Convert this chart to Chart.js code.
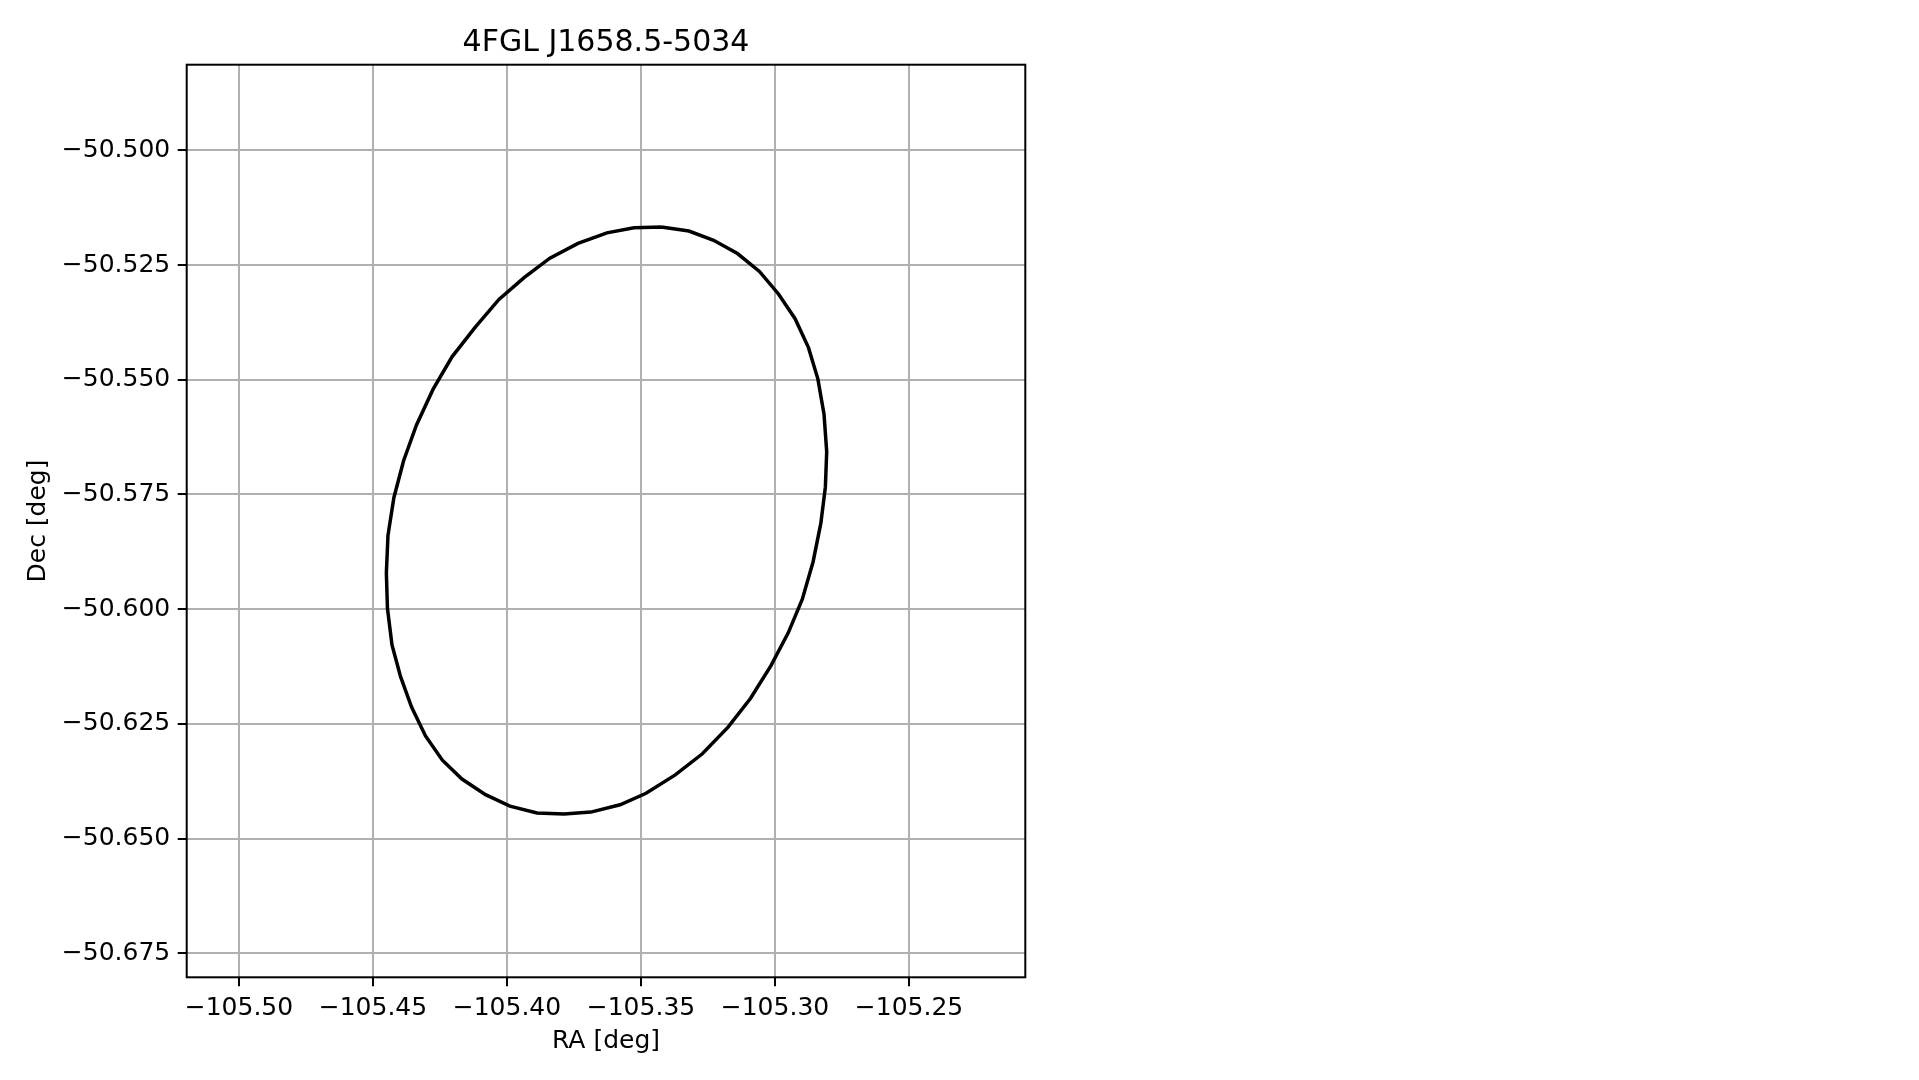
<!DOCTYPE html>
<html>
<head>
<meta charset="utf-8">
<title>4FGL J1658.5-5034</title>
<script src="https://cdn.jsdelivr.net/npm/chart.js@4.4.1/dist/chart.umd.min.js"></script>
<style>
  html, body { margin: 0; padding: 0; background: #ffffff; }
  #wrap { position: relative; width: 1919px; height: 1080px; }
</style>
</head>
<body>
<div id="wrap"><canvas id="chart"></canvas></div>
<script>
// error ellipse outline (closed: last point = first point)
const raValues = [
  -105.3424, -105.3526, -105.3627, -105.3735, -105.3840, -105.3935, -105.4030,
  -105.4119, -105.4205, -105.4276, -105.4338, -105.4386, -105.4422, -105.4444,
  -105.4450, -105.4446, -105.4429, -105.4397, -105.4356, -105.4304, -105.4241,
  -105.4168, -105.4080, -105.3989, -105.3888, -105.3787, -105.3687, -105.3578,
  -105.3481, -105.3372, -105.3271, -105.3175, -105.3091, -105.3015, -105.2951,
  -105.2898, -105.2858, -105.2829, -105.2812, -105.2807, -105.2817, -105.2840,
  -105.2875, -105.2925, -105.2987, -105.3058, -105.3140, -105.3229, -105.3321,
  -105.3424
];
const decValues = [
  -50.5167, -50.5169, -50.5180, -50.5203, -50.5235, -50.5277, -50.5325,
  -50.5386, -50.5450, -50.5521, -50.5599, -50.5677, -50.5757, -50.5839,
  -50.5921, -50.5998, -50.6078, -50.6147, -50.6213, -50.6276, -50.6329,
  -50.6370, -50.6404, -50.6429, -50.6444, -50.6446, -50.6442, -50.6426,
  -50.6401, -50.6361, -50.6315, -50.6257, -50.6194, -50.6123, -50.6052,
  -50.5978, -50.5897, -50.5813, -50.5734, -50.5657, -50.5575, -50.5498,
  -50.5430, -50.5367, -50.5313, -50.5264, -50.5225, -50.5196, -50.5176,
  -50.5167
];

const raTicks = [-105.50, -105.45, -105.40, -105.35, -105.30, -105.25];
const raTickLabels = ["\u2212105.50", "\u2212105.45", "\u2212105.40", "\u2212105.35", "\u2212105.30", "\u2212105.25"];
const decTicks = [-50.500, -50.525, -50.550, -50.575, -50.600, -50.625, -50.650, -50.675];
const decTickLabels = ["\u221250.500", "\u221250.525", "\u221250.550", "\u221250.575", "\u221250.600", "\u221250.625", "\u221250.650", "\u221250.675"];

const raRange = [-105.5195, -105.2066];
const decRange = [-50.6802, -50.48135];

Chart.defaults.font.family = "'DejaVu Sans', sans-serif";
Chart.defaults.color = "#000000";

// box around the plot area, like the matplotlib spines
const frame = {
  id: "frame",
  afterDatasetsDraw(chart) {
    const { ctx, chartArea: a } = chart;
    ctx.save();
    ctx.strokeStyle = "#000000";
    ctx.lineWidth = 2;
    ctx.strokeRect(a.left, a.top, a.right - a.left, a.bottom - a.top);
    ctx.restore();
  },
};

new Chart(document.getElementById("chart").getContext("2d"), {
  type: "scatter",
  data: {
    datasets: [
      {
        data: raValues.map((ra, i) => ({ x: ra, y: decValues[i] })),
        showLine: true,
        borderColor: "#000000",
        borderWidth: 3.5,
        tension: 0,
        pointRadius: 0,
        fill: false,
      },
    ],
  },
  options: {
    responsive: true,
    maintainAspectRatio: false,
    animation: false,
    layout: {
      padding: { left: 0, top: 0, right: 893.7, bottom: 0 },
    },
    scales: {
      x: {
        type: "linear",
        min: raRange[0],
        max: raRange[1],
        afterBuildTicks: (scale) => {
          scale.ticks = raTicks.map((v) => ({ value: v }));
        },
        afterFit: (scale) => {
          scale.height = 102.7;
        },
        border: { display: false },
        grid: {
          color: "#b0b0b0",
          lineWidth: 2,
          tickColor: "#000000",
          tickWidth: 2,
          tickLength: 9,
        },
        ticks: {
          font: { size: 25 },
          padding: 7,
          maxRotation: 0,
          callback: (value, index) => raTickLabels[index],
        },
        title: {
          display: true,
          text: "RA [deg]",
          font: { size: 25 },
          padding: { top: 0, bottom: 24 },
        },
      },
      y: {
        type: "linear",
        min: decRange[0],
        max: decRange[1],
        afterBuildTicks: (scale) => {
          scale.ticks = decTicks.map((v) => ({ value: v }));
        },
        afterFit: (scale) => {
          scale.width = 186.7;
        },
        border: { display: false },
        grid: {
          color: "#b0b0b0",
          lineWidth: 2,
          tickColor: "#000000",
          tickWidth: 2,
          tickLength: 9,
        },
        ticks: {
          font: { size: 25 },
          padding: 7.5,
          callback: (value, index) => decTickLabels[index],
        },
        title: {
          display: true,
          text: "Dec [deg]",
          font: { size: 25 },
          padding: { top: 23, bottom: 0 },
        },
      },
    },
    plugins: {
      legend: { display: false },
      tooltip: { enabled: false },
      title: {
        display: true,
        text: "4FGL J1658.5-5034",
        fullSize: false,
        font: { size: 30, weight: "normal" },
        color: "#000000",
        padding: { top: 25.2, bottom: 3.5 },
      },
    },
  },
  plugins: [frame],
});
</script>
</body>
</html>
